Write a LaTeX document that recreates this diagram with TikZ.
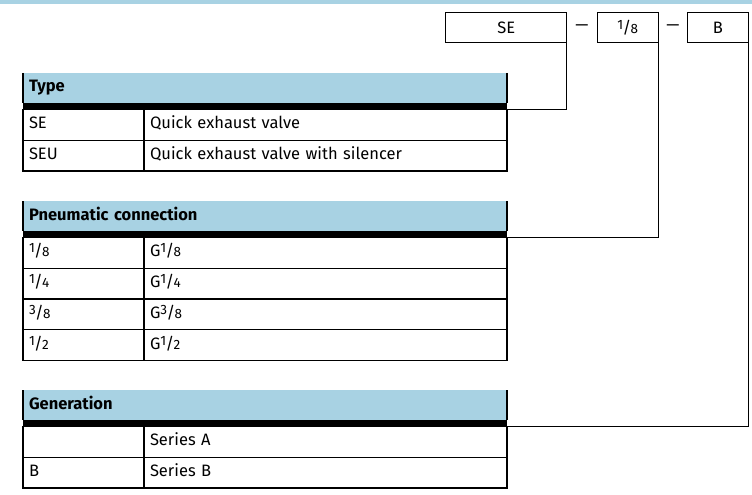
\documentclass[tikz,border=0pt]{standalone}
\usepackage{fontspec}
\setmainfont{Fira Sans}
\usepackage{xcolor}
\usetikzlibrary{positioning}
\definecolor{headblue}{RGB}{168,210,227}
\newcommand{\vfr}[2]{{\fontsize{13.5}{14}\selectfont\raisebox{4pt}{#1}}\kern-0.6pt/\kern-0.6pt{\fontsize{13.5}{14}\selectfont #2}}

\begin{document}
\begin{tikzpicture}[x=1pt,y=-1pt,font=\fontsize{16.5}{18}\selectfont,
    cell/.style={draw,line width=1.4pt,outer sep=0pt,inner xsep=6pt,inner ysep=0pt,
      minimum height=30.75pt,text height=11pt,text depth=3pt,align=left},
    key/.style={cell,text width=109pt},
    desc/.style={cell,text width=351pt},
    head/.style={fill=headblue,outer sep=0pt,inner xsep=6pt,inner ysep=0pt,minimum height=30pt,
      text width=472pt,text height=11pt,text depth=3pt,align=left,font=\fontsize{16.5}{18}\selectfont\bfseries},
    bar/.style={fill=black,outer sep=0pt,inner sep=0pt,minimum width=484pt,minimum height=6.5pt},
    code/.style={draw,line width=1.4pt,outer sep=0pt,inner sep=0pt,minimum height=30pt},
    link/.style={line width=1.4pt}]

    \useasboundingbox (0,0) rectangle (752,495);
    \fill[headblue] (0,0) rectangle (752,4);

    \node[code,minimum width=121pt,anchor=north west] (cType) at (445.7,12.7) {SE};
    \node[code,minimum width=61pt,anchor=north west] (cConn) at (597.3,12.7) {\vfr{1}{8}};
    \node[code,minimum width=61pt,anchor=north west] (cGen) at (687.3,12.7) {B};
    \node (dash1) at (582,27.7) {—};
    \node (dash2) at (672.8,27.7) {—};

    \node[head,anchor=north west] (hType) at (23,73) {Type};
    \node[bar,below=0pt of hType] (bType) {};
    \draw[link] (hType.north west) -- (hType.south west) (hType.north east) -- (hType.south east);
    \node[key,anchor=north west] (kSE) at (bType.south west) {SE};
    \node[desc,right=0pt of kSE] (dSE) {Quick exhaust valve};
    \node[key,below=0pt of kSE] (kSEU) {SEU};
    \node[desc,right=0pt of kSEU] (dSEU) {Quick exhaust valve with silencer};

    \node[head,anchor=north west] (hConn) at (23,201) {Pneumatic connection};
    \node[bar,below=0pt of hConn] (bConn) {};
    \draw[link] (hConn.north west) -- (hConn.south west) (hConn.north east) -- (hConn.south east);
    \node[key,anchor=north west] (kA) at (bConn.south west) {\vfr{1}{8}};
    \node[desc,right=0pt of kA] (dA) {G\vfr{1}{8}};
    \node[key,below=0pt of kA] (kB) {\vfr{1}{4}};
    \node[desc,right=0pt of kB] (dB) {G\vfr{1}{4}};
    \node[key,below=0pt of kB] (kC) {\vfr{3}{8}};
    \node[desc,right=0pt of kC] (dC) {G\vfr{3}{8}};
    \node[key,below=0pt of kC] (kD) {\vfr{1}{2}};
    \node[desc,right=0pt of kD] (dD) {G\vfr{1}{2}};

    \node[head,anchor=north west] (hGen) at (23,390) {Generation};
    \node[bar,below=0pt of hGen] (bGen) {};
    \draw[link] (hGen.north west) -- (hGen.south west) (hGen.north east) -- (hGen.south east);
    \node[key,anchor=north west] (kSA) at (bGen.south west) {};
    \node[desc,right=0pt of kSA] (dSA) {Series A};
    \node[key,below=0pt of kSA] (kSB) {B};
    \node[desc,right=0pt of kSB] (dSB) {Series B};

    \draw[link] (bType.south east) -| (cType.south east);
    \draw[link] (bConn.south east) -| (cConn.south east);
    \draw[link] (bGen.south east) -| (cGen.south east);

\end{tikzpicture}
\end{document}
